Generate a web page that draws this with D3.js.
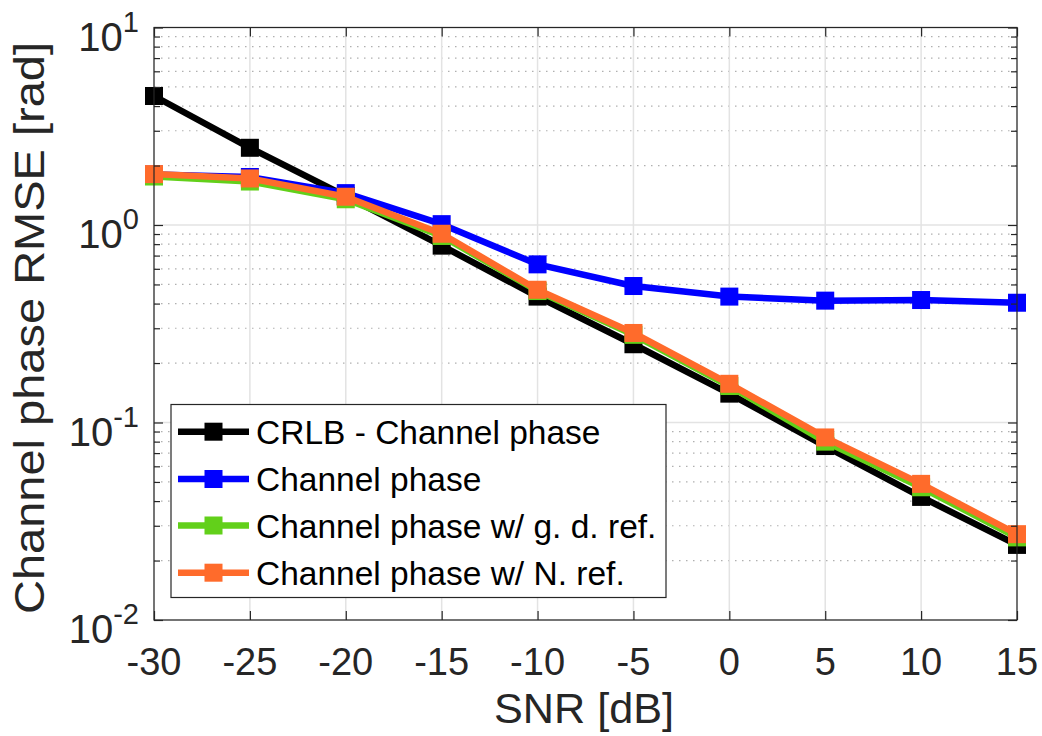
<!DOCTYPE html>
<html>
<head>
<meta charset="utf-8">
<script src="https://cdn.jsdelivr.net/npm/d3@7"></script>
<style>
  body { margin: 0; background: #fff; }
  svg text { font-family: "Liberation Sans", Arial, Helvetica, sans-serif; fill: #262626; }
</style>
</head>
<body>
<svg id="chart" width="1042" height="736"></svg>
<script>
// SNR sweep and RMSE of the channel-phase estimators
const snr = [-30, -25, -20, -15, -10, -5, 0, 5, 10, 15];
const crlbPhase = [4.5, 2.46, 1.40, 0.786, 0.434, 0.249, 0.140, 0.076, 0.042, 0.024];
const chanPhase = [1.80, 1.75, 1.45, 1.01, 0.632, 0.491, 0.434, 0.414, 0.417, 0.404];
const chanPhaseGd = [1.76, 1.66, 1.35, 0.88, 0.463, 0.278, 0.153, 0.080, 0.047, 0.0262];
const chanPhaseN = [1.81, 1.72, 1.39, 0.903, 0.47, 0.284, 0.157, 0.084, 0.0489, 0.0272];

const xTicks = [-30, -25, -20, -15, -10, -5, 0, 5, 10, 15];
const yExponents = [-2, -1, 0, 1];

const seriesNames = ["CRLB - Channel phase", "Channel phase", "Channel phase w/ g. d. ref.", "Channel phase w/ N. ref."];
const seriesColors = ["#000000", "#0000ff", "#62d01a", "#ff6b2b"];
const seriesValues = [crlbPhase, chanPhase, chanPhaseGd, chanPhaseN];

const svg = d3.select("#chart");
const plot = { left: 154, right: 1017, top: 27.5, bottom: 620 };

const x = d3.scaleLinear().domain([-30, 15]).range([plot.left, plot.right]);
const y = d3.scaleLog().domain([0.01, 10]).range([plot.bottom, plot.top]);

// minor values 2..9 within each decade
const minorVals = [];
for (let e = -2; e < 1; e++) for (let m = 2; m <= 9; m++) minorVals.push(m * Math.pow(10, e));
const majorVals = yExponents.map(e => Math.pow(10, e));

const grid = svg.append("g");
// minor horizontal dotted grid
grid.selectAll(".minor").data(minorVals).join("line")
  .attr("x1", plot.left).attr("x2", plot.right)
  .attr("y1", d => y(d)).attr("y2", d => y(d))
  .attr("stroke", "#b0b0b0").attr("stroke-width", 1.2)
  .attr("stroke-dasharray", "1.5,5.5");
// major grid
grid.selectAll(".hmaj").data(majorVals).join("line")
  .attr("x1", plot.left).attr("x2", plot.right)
  .attr("y1", d => y(d)).attr("y2", d => y(d))
  .attr("stroke", "#e3e3e3").attr("stroke-width", 1.5);
grid.selectAll(".vmaj").data(xTicks).join("line")
  .attr("x1", d => x(d)).attr("x2", d => x(d))
  .attr("y1", plot.top).attr("y2", plot.bottom)
  .attr("stroke", "#e3e3e3").attr("stroke-width", 1.5);

// series lines and square markers
const line = d3.line().x((d, i) => x(snr[i])).y(d => y(d));
const mk = 18;
seriesValues.forEach((vals, k) => {
  const g = svg.append("g");
  g.append("path").datum(vals)
    .attr("d", line).attr("fill", "none")
    .attr("stroke", seriesColors[k]).attr("stroke-width", 6.5)
    .attr("stroke-linejoin", "round");
  g.selectAll("rect").data(vals).join("rect")
    .attr("x", (d, i) => x(snr[i]) - mk / 2)
    .attr("y", d => y(d) - mk / 2)
    .attr("width", mk).attr("height", mk)
    .attr("fill", seriesColors[k]);
});

// axes box with inward ticks
const axisColor = "#262626";
const axes = svg.append("g");
const xAxisBottom = d3.axisBottom(x).tickValues(xTicks).tickSize(-9).tickFormat("");
const xAxisTop = d3.axisTop(x).tickValues(xTicks).tickSize(-9).tickFormat("");
axes.append("g").attr("transform", `translate(0,${plot.bottom})`).call(xAxisBottom);
axes.append("g").attr("transform", `translate(0,${plot.top})`).call(xAxisTop);
const yMajL = d3.axisLeft(y).tickValues(majorVals).tickSize(-9).tickFormat("");
const yMinL = d3.axisLeft(y).tickValues(minorVals).tickSize(-6).tickFormat("");
const yMajR = d3.axisRight(y).tickValues(majorVals).tickSize(-9).tickFormat("");
const yMinR = d3.axisRight(y).tickValues(minorVals).tickSize(-6).tickFormat("");
axes.append("g").attr("transform", `translate(${plot.left},0)`).call(yMajL);
axes.append("g").attr("transform", `translate(${plot.left},0)`).call(yMinL);
axes.append("g").attr("transform", `translate(${plot.right},0)`).call(yMajR);
axes.append("g").attr("transform", `translate(${plot.right},0)`).call(yMinR);
axes.selectAll("path.domain").remove();
axes.selectAll("line").attr("stroke", axisColor).attr("stroke-width", 1.2);
axes.append("rect")
  .attr("x", plot.left).attr("y", plot.top)
  .attr("width", plot.right - plot.left).attr("height", plot.bottom - plot.top)
  .attr("fill", "none").attr("stroke", axisColor).attr("stroke-width", 1.2);

// x tick labels
svg.append("g").selectAll("text").data(xTicks).join("text")
  .attr("x", d => x(d)).attr("y", plot.bottom + 55)
  .attr("text-anchor", "middle").attr("font-size", 38)
  .text(d => d);

// y tick labels as 10 with superscript exponent
const yl = svg.append("g").selectAll("text").data(yExponents).join("text")
  .attr("x", plot.left - 15).attr("y", d => y(Math.pow(10, d)) + 23)
  .attr("text-anchor", "end").attr("font-size", 40);
yl.append("tspan").text("10");
yl.append("tspan").attr("font-size", 29).attr("dy", -19).text(d => d);

// axis titles
svg.append("text")
  .attr("x", 584).attr("y", 723)
  .attr("text-anchor", "middle").attr("font-size", 42)
  .attr("textLength", 180).attr("lengthAdjust", "spacingAndGlyphs")
  .text("SNR [dB]");
svg.append("text")
  .attr("transform", `translate(44,328) rotate(-90)`)
  .attr("text-anchor", "middle").attr("font-size", 42)
  .attr("textLength", 572).attr("lengthAdjust", "spacingAndGlyphs")
  .text("Channel phase RMSE [rad]");

// legend
const leg = svg.append("g");
leg.append("rect")
  .attr("x", 171).attr("y", 404.5).attr("width", 495).attr("height", 193)
  .attr("fill", "#fff").attr("stroke", axisColor).attr("stroke-width", 1.2);
const rowY = [431.7, 479, 525.5, 572.7];
seriesNames.forEach((name, k) => {
  const cy = rowY[k];
  leg.append("line")
    .attr("x1", 178).attr("x2", 249).attr("y1", cy).attr("y2", cy)
    .attr("stroke", seriesColors[k]).attr("stroke-width", 6.5);
  leg.append("rect")
    .attr("x", 213.5 - mk / 2).attr("y", cy - mk / 2).attr("width", mk).attr("height", mk)
    .attr("fill", seriesColors[k]);
  leg.append("text")
    .attr("x", 256).attr("y", cy + 12).attr("font-size", 33.5)
    .style("fill", "#000")
    .text(name);
});
</script>
</body>
</html>
